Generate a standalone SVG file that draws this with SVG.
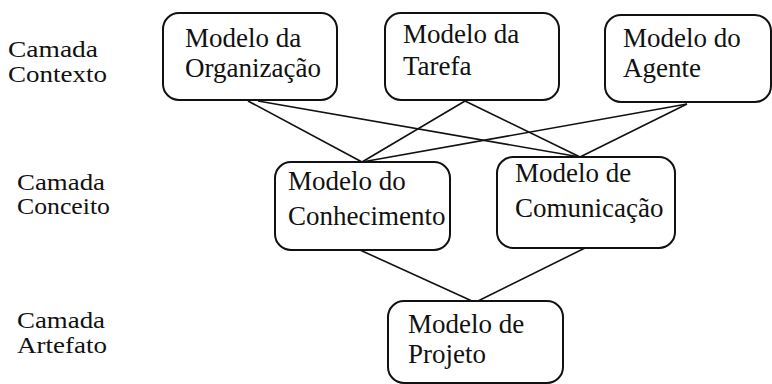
<svg xmlns="http://www.w3.org/2000/svg" width="772" height="384" viewBox="0 0 772 384">
<style>
.box{fill:#fff;stroke:#111;stroke-width:2}
.t{font-family:"Liberation Serif","Times New Roman",serif;font-size:27px;fill:#111}
.l{font-family:"Liberation Serif","Times New Roman",serif;font-size:23px;fill:#111}
.c{stroke:#111;stroke-width:1.6;fill:none}
</style>
<rect width="772" height="384" fill="#fff"/>
<g id="labels">
<text class="l" x="8" y="57" textLength="90" lengthAdjust="spacingAndGlyphs">Camada</text>
<text class="l" x="8" y="82" textLength="99" lengthAdjust="spacingAndGlyphs">Contexto</text>
<text class="l" x="17" y="190" textLength="88" lengthAdjust="spacingAndGlyphs">Camada</text>
<text class="l" x="17" y="214" textLength="93" lengthAdjust="spacingAndGlyphs">Conceito</text>
<text class="l" x="17" y="328" textLength="88" lengthAdjust="spacingAndGlyphs">Camada</text>
<text class="l" x="17" y="353" textLength="90" lengthAdjust="spacingAndGlyphs">Artefato</text>
</g>
<g id="connectors">
<line class="c" x1="248" y1="101" x2="362" y2="162"/>
<line class="c" x1="258" y1="101" x2="580" y2="157"/>
<line class="c" x1="465" y1="101" x2="362" y2="162"/>
<line class="c" x1="465" y1="101" x2="580" y2="157"/>
<line class="c" x1="687" y1="104" x2="362" y2="162"/>
<line class="c" x1="687" y1="104" x2="580" y2="157"/>
<line class="c" x1="360" y1="250" x2="472" y2="301"/>
<line class="c" x1="585" y1="248" x2="478" y2="301"/>
</g>
<g id="org"><rect class="box" x="163" y="13" width="174" height="87" rx="16"/>
<text class="t" x="185" y="47">Modelo da</text><text class="t" x="185" y="77">Organização</text></g>
<g id="tarefa"><rect class="box" x="385" y="13" width="174" height="87" rx="16"/>
<text class="t" x="403" y="43">Modelo da</text><text class="t" x="403" y="75">Tarefa</text></g>
<g id="agente"><rect class="box" x="605" y="15" width="166" height="87" rx="16"/>
<text class="t" x="623" y="47">Modelo do</text><text class="t" x="623" y="77">Agente</text></g>
<g id="conhecimento"><rect class="box" x="275" y="162" width="175" height="88" rx="16"/>
<text class="t" x="288" y="190">Modelo do</text><text class="t" x="288" y="225">Conhecimento</text></g>
<g id="comunicacao"><rect class="box" x="497" y="157" width="178" height="91" rx="16"/>
<text class="t" x="515" y="182">Modelo de</text><text class="t" x="515" y="217">Comunicação</text></g>
<g id="projeto"><rect class="box" x="388" y="301" width="175" height="82" rx="16"/>
<text class="t" x="408" y="333">Modelo de</text><text class="t" x="408" y="363">Projeto</text></g>
</svg>
